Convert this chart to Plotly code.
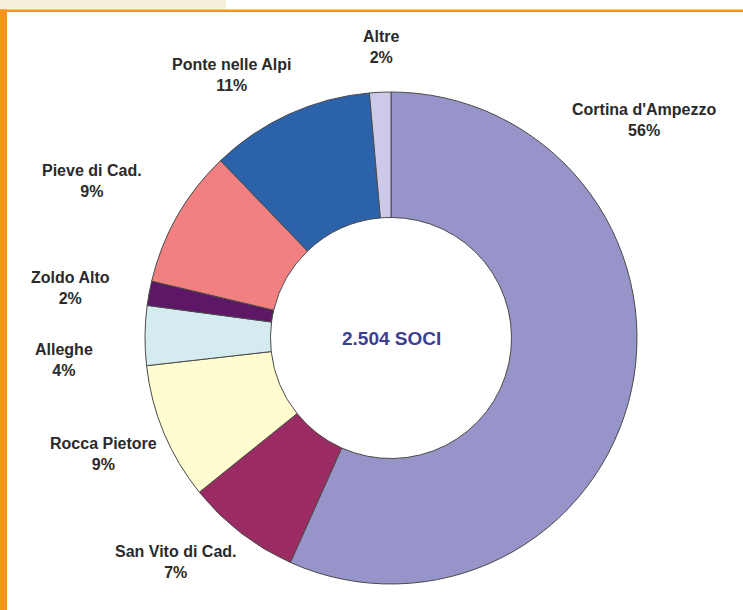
import plotly.graph_objects as go

# Data (clockwise from 12 o'clock)
categories = ["Cortina d'Ampezzo", "San Vito di Cad.", "Rocca Pietore", "Alleghe",
              "Zoldo Alto", "Pieve di Cad.", "Ponte nelle Alpi", "Altre"]
soci = [1420, 188, 225, 98, 40, 228, 270, 35]
pct_labels = ["56%", "7%", "9%", "4%", "2%", "9%", "11%", "2%"]
colors = ["#9694C8", "#9B2C63", "#FFFCCF", "#D4ECF0", "#5E1767", "#F28080", "#2C62AA", "#CCCAE8"]
center_label = "2.504 SOCI"

W, H = 743, 610
# label anchor positions in pixels (layout)
lab_px = [(644, 120), (176, 562), (103, 454), (64, 360), (70, 288), (92, 181), (231, 75), (382, 47)]

fig = go.Figure()
fig.add_trace(go.Pie(
    labels=categories, values=soci, sort=False, direction="clockwise", rotation=0,
    hole=0.49, marker=dict(colors=colors, line=dict(color="#4a4a4a", width=1)),
    textinfo="none", hoverinfo="label+percent", showlegend=False,
    domain=dict(x=[145 / W, 637 / W], y=[1 - 584 / H, 1 - 92 / H]),
))

for (cat, pct, (px, py)) in zip(categories, pct_labels, lab_px):
    fig.add_annotation(x=px / W, y=1 - py / H, xref="paper", yref="paper",
                       text=f"<b>{cat}</b><br><b>{pct}</b>", showarrow=False,
                       font=dict(family="Liberation Sans, Arial, sans-serif", size=16, color="#2a2a2a"),
                       align="center", xanchor="center", yanchor="middle")

fig.add_annotation(x=391 / W, y=1 - 338 / H, xref="paper", yref="paper",
                   text=f"<b>{center_label}</b>", showarrow=False,
                   font=dict(family="Liberation Sans, Arial, sans-serif", size=19, color="#3B3F8F"),
                   xanchor="center", yanchor="middle")

# decorative frame
fig.add_shape(type="rect", xref="paper", yref="paper", x0=0, x1=226 / W, y0=1 - 9 / H, y1=1,
              fillcolor="#F5F0DA", line=dict(width=0), layer="below")
fig.add_shape(type="rect", xref="paper", yref="paper", x0=0, x1=1, y0=1 - 12 / H, y1=1 - 9.5 / H,
              fillcolor="#F7941D", line=dict(width=0), layer="below")
fig.add_shape(type="rect", xref="paper", yref="paper", x0=0, x1=7 / W, y0=0, y1=1 - 9.5 / H,
              fillcolor="#F7941D", line=dict(width=0), layer="below")

fig.update_layout(width=W, height=H, margin=dict(l=0, r=0, t=0, b=0),
                  paper_bgcolor="white", plot_bgcolor="white")
fig.write_html("out.html", config={"displayModeBar": False},
               post_script="document.body.style.margin='0';")
